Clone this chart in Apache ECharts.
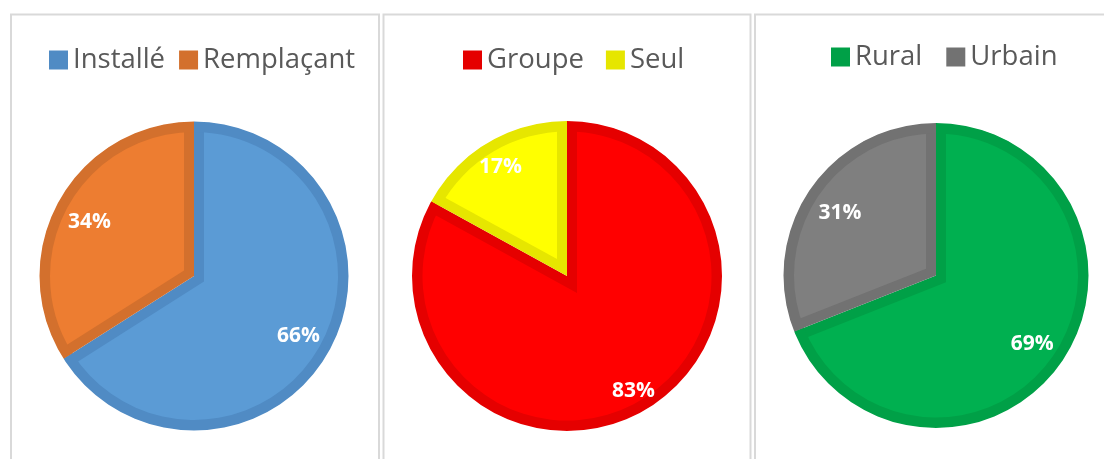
<!DOCTYPE html>
<html>
<head>
<meta charset="utf-8">
<script src="https://cdn.jsdelivr.net/npm/echarts@6/dist/echarts.min.js"></script>
<style>
  html, body { margin: 0; padding: 0; background: #fff; }
  #chart { width: 1104px; height: 459px; }
</style>
</head>
<body>
<div id="chart"></div>
<script>
// données des trois camemberts
const statusLabels = ['Installé', 'Remplaçant'];
const statusValues = [66, 34];
const practiceLabels = ['Groupe', 'Seul'];
const practiceValues = [83, 17];
const areaLabels = ['Rural', 'Urbain'];
const areaValues = [69, 31];

const chart = echarts.init(document.getElementById('chart'));

// contour intérieur façon Excel : bande foncée de d px à l'intérieur de chaque part
function pieLayers(names, values, fills, borders, cx, cy, R, labelFrac) {
  const dSide = 10, dOut = 11;
  const total = values.reduce((a, b) => a + b, 0);
  const series = [];
  const base = { type: 'pie', startAngle: 90, clockwise: true, silent: true,
    label: { show: false }, labelLine: { show: false }, emphasis: { disabled: true } };

  // fond : couleur du contour
  series.push(Object.assign({}, base, {
    center: [cx, cy], radius: R, z: 1,
    data: names.map((n, i) => ({ name: n, value: values[i], itemStyle: { color: borders[i], borderWidth: 0 } }))
  }));

  // remplissage de chaque part, décalé vers l'intérieur
  let cum = 0, maxOver = 0;
  values.forEach((v, i) => {
    const f0 = cum / total, f1 = (cum + v) / total;
    cum += v;
    const theta = (f1 - f0) * 2 * Math.PI;
    const a = (f0 + f1) * Math.PI;
    const s = dSide / Math.sin(theta / 2);
    const r2 = R - dOut - s * Math.cos(theta / 2) + 1;
    maxOver = Math.max(maxOver, r2 + s - R);
    series.push(Object.assign({}, base, {
      center: [cx + s * Math.sin(a), cy - s * Math.cos(a)], radius: r2, z: 2,
      data: names.map((n, j) => ({ name: n, value: values[j],
        itemStyle: { color: j === i ? fills[i] : 'rgba(0,0,0,0)', borderWidth: 0 } }))
    }));
  });

  // anneau extérieur
  series.push(Object.assign({}, base, {
    center: [cx, cy], radius: [R - dOut, R], z: 3,
    data: names.map((n, i) => ({ name: n, value: values[i], itemStyle: { color: borders[i], borderWidth: 0 } }))
  }));

  // masque blanc autour
  series.push(Object.assign({}, base, {
    center: [cx, cy], radius: [R - 0.5, R + Math.max(maxOver, 0) + 3], z: 4,
    data: [{ name: '_mask', value: 1, itemStyle: { color: '#fff', borderWidth: 0 } }]
  }));

  // étiquettes
  series.push(Object.assign({}, base, {
    center: [cx, cy], radius: [R * (2 * labelFrac - 1), R], z: 5,
    label: { show: true, position: 'inside', formatter: '{c}%', color: '#fff', offset: [0, 3],
      fontFamily: 'Open Sans', fontWeight: 'bold', fontSize: 21 },
    data: names.map((n, i) => ({ name: n, value: values[i], itemStyle: { color: 'rgba(0,0,0,0)', borderWidth: 0 } }))
  }));
  return series;
}

function legendFor(names, borders, left, top, gap) {
  return {
    left: left, top: top, itemWidth: 19, itemHeight: 19, itemGap: gap, icon: 'rect',
    selectedMode: false,
    textStyle: { fontFamily: 'Open Sans', fontSize: 27.5, color: '#595959', lineHeight: 30 },
    data: names.map((n, i) => ({ name: n, itemStyle: { color: borders[i], borderWidth: 0 } }))
  };
}

const statusFill = ['#5B9BD5', '#ED7D31'], statusBorder = ['#508BC4', '#D3702D'];
const practiceFill = ['#FF0000', '#FFFF00'], practiceBorder = ['#E50000', '#E6E600'];
const areaFill = ['#00B050', '#7F7F7F'], areaBorder = ['#00A047', '#727272'];

const panel = (x, w) => ({
  type: 'rect', shape: { x: x, y: 14.5, width: w, height: 470 }, silent: true, z: 100,
  style: { fill: 'none', stroke: '#d9d9d9', lineWidth: 2 }
});

chart.setOption({
  animation: false,
  backgroundColor: '#fff',
  graphic: [panel(11, 368), panel(383.5, 367), panel(755, 360)],
  legend: [
    legendFor(statusLabels, statusBorder, 44, 40, 14),
    legendFor(practiceLabels, practiceBorder, 458, 40, 22),
    legendFor(areaLabels, areaBorder, 826, 37, 24)
  ],
  series: [].concat(
    pieLayers(statusLabels, statusValues, statusFill, statusBorder, 194, 276, 155, 0.75),
    pieLayers(practiceLabels, practiceValues, practiceFill, practiceBorder, 567, 276, 155.5, 0.82),
    pieLayers(areaLabels, areaValues, areaFill, areaBorder, 936, 275.5, 153, 0.74)
  )
});
</script>
</body>
</html>
